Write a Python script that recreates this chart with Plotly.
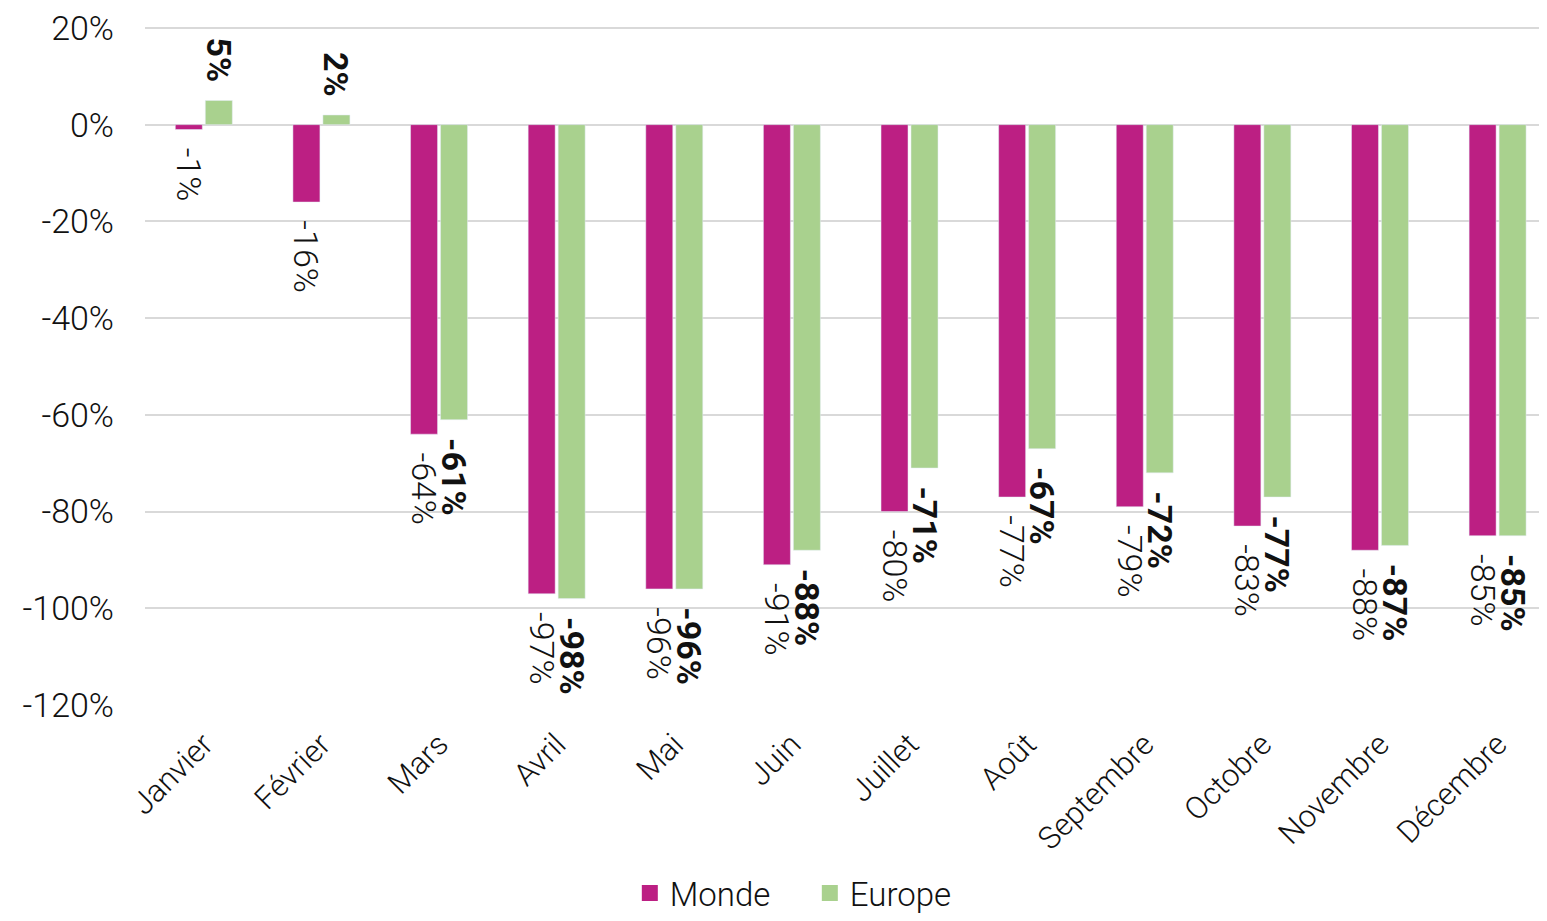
import plotly.graph_objects as go

months = ["Janvier", "Février", "Mars", "Avril", "Mai", "Juin", "Juillet",
          "Août", "Septembre", "Octobre", "Novembre", "Décembre"]
monde = [-1, -16, -64, -97, -96, -91, -80, -77, -79, -83, -88, -85]
europe = [5, 2, -61, -98, -96, -88, -71, -67, -72, -77, -87, -85]
y_ticks = [20, 0, -20, -40, -60, -80, -100, -120]

FONT = "Roboto"
C_MONDE = "#BC1F83"
C_EUROPE = "#A9D18E"
PAD = "\u00a0\u2009"


def label(v):
    # padding on the side that touches the bar end
    return f"{PAD}{v}%" if v < 0 else f"{v}%{PAD}"


fig = go.Figure()
fig.add_trace(go.Bar(
    name="Monde", x=months, y=monde, marker_color=C_MONDE,
    text=[label(v) for v in monde], textposition="outside", textangle=90,
    constraintext="none", showlegend=False,
    textfont=dict(family=FONT, size=34, color="#111111", weight=300),
    cliponaxis=False,
))
fig.add_trace(go.Bar(
    name="Europe", x=months, y=europe, marker_color=C_EUROPE,
    text=[label(v) for v in europe], textposition="outside", textangle=90,
    constraintext="none", showlegend=False,
    textfont=dict(family=FONT, size=34, color="#111111", weight=700),
    cliponaxis=False,
))
# legend entries with larger square swatches
for name, col in [("Monde", C_MONDE), ("Europe", C_EUROPE)]:
    fig.add_trace(go.Scatter(
        name=name, x=[None], y=[None], mode="markers",
        marker=dict(symbol="square", size=20, color=col, line=dict(width=0)),
        showlegend=True,
    ))

fig.update_layout(
    width=1539, height=913,
    margin=dict(l=137, r=0, t=18, b=216, autoexpand=False),
    barmode="group", bargap=0.49, bargroupgap=0.1,
    plot_bgcolor="white", paper_bgcolor="white",
    font=dict(family=FONT, size=30, color="#111111"),
    showlegend=True,
    legend=dict(orientation="h", xref="container", yref="container",
                x=0.521, xanchor="center", y=-0.006, yanchor="bottom",
                font=dict(family=FONT, size=33, color="#111111", weight=300),
                entrywidth=135, entrywidthmode="pixels", traceorder="normal",
                itemsizing="trace"),
)
fig.update_xaxes(
    range=[-0.5, 11.42], tickangle=-45, showgrid=False, showline=False,
    ticks="", automargin=False, ticklabelstandoff=14,
    tickfont=dict(family=FONT, size=31, color="#111111", weight=300),
)
fig.update_yaxes(
    range=[-120, 20.4], tickvals=y_ticks, ticktext=[f"{v}%" for v in y_ticks],
    showgrid=True, gridcolor="#D9D9D9", gridwidth=2,
    zeroline=True, zerolinecolor="#D9D9D9", zerolinewidth=2,
    showline=False, ticks="", ticklabelstandoff=30, automargin=False,
    ticklabeloverflow="allow",
    tickfont=dict(family=FONT, size=34, color="#111111", weight=300),
)

fig.write_html("out.html")
